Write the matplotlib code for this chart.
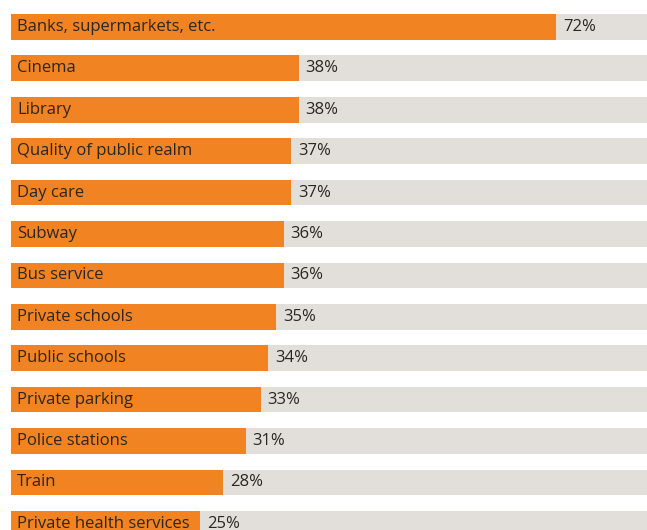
import matplotlib

matplotlib.use("Agg")
import matplotlib.pyplot as plt

services = [
    "Banks, supermarkets, etc.",
    "Cinema",
    "Library",
    "Quality of public realm",
    "Day care",
    "Subway",
    "Bus service",
    "Private schools",
    "Public schools",
    "Private parking",
    "Police stations",
    "Train",
    "Private health services",
]
shares = [72, 38, 38, 37, 37, 36, 36, 35, 34, 33, 31, 28, 25]

ORANGE = "#F28322"
TRACK = "#E2DED9"
TEXT = "#2B2622"

plt.rcParams["font.family"] = ["Open Sans", "DejaVu Sans"]

fig = plt.figure(figsize=(6.47, 5.30), dpi=100)
ax = fig.add_axes([11 / 647, 0, 636 / 647, 1])

pos = list(range(len(services)))
ax.barh(pos, [100] * len(services), height=0.62, color=TRACK, linewidth=0)
ax.barh(pos, shares, height=0.62, color=ORANGE, linewidth=0)

for y, name, val in zip(pos, services, shares):
    ax.text(0.8, y, name, va="center", ha="left", fontsize=12, color=TEXT)
    ax.text(val + 0.9, y, f"{val}%", va="center", ha="left", fontsize=12, color=TEXT)

ax.set_xlim(0, 84)
ax.set_ylim(12.15, -0.65)
ax.axis("off")

fig.savefig("out.png", dpi=100)
